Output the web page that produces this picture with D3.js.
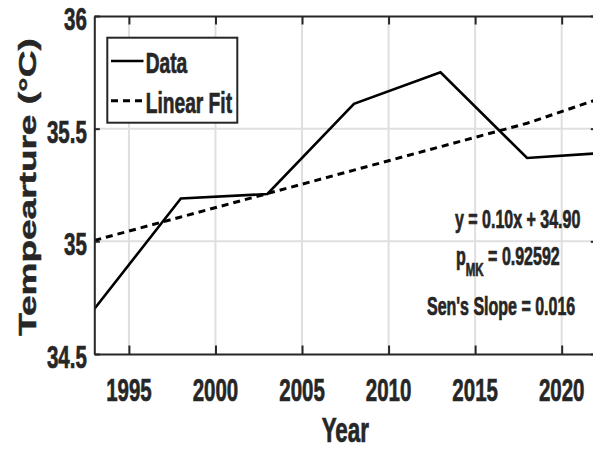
<!DOCTYPE html>
<html>
<head>
<meta charset="utf-8">
<script src="https://cdn.jsdelivr.net/npm/d3@7"></script>
<style>
  body { margin: 0; background: #fff; }
  svg { display: block; overflow: hidden; }
  text { font-family: "Liberation Sans", Arial, Helvetica, sans-serif; font-weight: bold; fill: #262626; stroke: #262626; stroke-width: 0.7px; }
</style>
</head>
<body>
<svg id="chart" width="593" height="450"></svg>
<script>
// Annual mean temperature series
const years = [1993, 1998, 2003, 2008, 2013, 2018, 2022];
const temps = [34.70, 35.19, 35.21, 35.61, 35.75, 35.37, 35.39];

// Axis ticks
const xTicks = [1995, 2000, 2005, 2010, 2015, 2020];
const yTicks = [34.5, 35, 35.5, 36];

// Linear fit on sample index (x = 1..n) and trend statistics
const fitSlope = 0.104;
const fitIntercept = 34.90;
const pMK = "0.92592";
const senSlope = "0.016";

// Horizontal squeeze applied to all text glyphs (condensed look)
const SX = 0.64;

const svg = d3.select("#chart");
const plot = { left: 94.3, right: 596.3, top: 16, bottom: 354 };

const x = d3.scaleLinear().domain([1993, 2022]).range([plot.left, plot.right]);
const y = d3.scaleLinear().domain([34.5, 36]).range([plot.bottom, plot.top]);

// Grid
const grid = svg.append("g").attr("stroke", "#dfdfdf").attr("stroke-width", 2);
grid.selectAll("line.v").data(xTicks).join("line")
  .attr("x1", d => x(d)).attr("x2", d => x(d))
  .attr("y1", plot.top).attr("y2", plot.bottom);
grid.selectAll("line.h").data(yTicks.filter(d => d > 34.5 && d < 36)).join("line")
  .attr("x1", plot.left).attr("x2", plot.right)
  .attr("y1", d => y(d)).attr("y2", d => y(d));

// Clip for series
svg.append("clipPath").attr("id", "plotClip").append("rect")
  .attr("x", plot.left).attr("y", plot.top)
  .attr("width", plot.right - plot.left).attr("height", plot.bottom - plot.top);

const series = svg.append("g").attr("clip-path", "url(#plotClip)");

// Linear fit line
const fitVals = years.map((yr, i) => ({ yr, v: fitIntercept + fitSlope * (i + 1) }));
series.append("path")
  .datum(fitVals)
  .attr("fill", "none").attr("stroke", "#000").attr("stroke-width", 3)
  .attr("stroke-dasharray", "7,5")
  .attr("d", d3.line().x(d => x(d.yr)).y(d => y(d.v)));

// Data line
series.append("path")
  .datum(years.map((yr, i) => ({ yr, v: temps[i] })))
  .attr("fill", "none").attr("stroke", "#000").attr("stroke-width", 2.6)
  .attr("stroke-linejoin", "miter")
  .attr("d", d3.line().x(d => x(d.yr)).y(d => y(d.v)));

// Axes (ticks pointing inward on all four sides)
const axisColor = "#262626";
function styleAxis(g) {
  g.select(".domain").attr("stroke", axisColor).attr("stroke-width", 2);
  g.selectAll(".tick line").attr("stroke", axisColor).attr("stroke-width", 2);
  g.selectAll(".tick text").remove();
}
svg.append("g").attr("transform", `translate(0,${plot.bottom})`)
  .call(d3.axisBottom(x).tickValues(xTicks).tickSizeInner(-8.5).tickSizeOuter(0))
  .call(styleAxis);
svg.append("g").attr("transform", `translate(0,${plot.top})`)
  .call(d3.axisTop(x).tickValues(xTicks).tickSizeInner(-8.5).tickSizeOuter(0))
  .call(styleAxis);
svg.append("g").attr("transform", `translate(${plot.left},0)`)
  .call(d3.axisLeft(y).tickValues(yTicks).tickSizeInner(-5.5).tickSizeOuter(0))
  .call(styleAxis);
svg.append("g").attr("transform", `translate(${plot.right},0)`)
  .call(d3.axisRight(y).tickValues(yTicks).tickSizeInner(-5.5).tickSizeOuter(0))
  .call(styleAxis);

// Helper for squeezed text
function label(px, py, str, size, anchor) {
  return svg.append("g").attr("transform", `translate(${px},${py}) scale(${SX},1)`)
    .append("text").attr("text-anchor", anchor || "start")
    .style("font-size", size + "px").text(str);
}

// Tick labels
xTicks.forEach(t => label(x(t), 400.5, String(t), 32, "middle"));
yTicks.forEach(t => label(86.8, y(t) + 14, String(t), 32, "end"));

// Axis titles
label((plot.left + plot.right) / 2, 442, "Year", 35, "middle");
svg.append("g").attr("transform", `translate(35.5,187) scale(${SX},1) rotate(-90)`)
  .append("text").attr("text-anchor", "middle").style("font-size", "37px")
  .text("Tempearture (°C)");

// Legend
const lg = svg.append("g");
lg.append("rect").attr("x", 107.3).attr("y", 37.7).attr("width", 130).attr("height", 85)
  .attr("fill", "#fff").attr("stroke", axisColor).attr("stroke-width", 2);
lg.append("line").attr("x1", 111).attr("x2", 143.5).attr("y1", 61).attr("y2", 61)
  .attr("stroke", "#000").attr("stroke-width", 2.6);
lg.append("line").attr("x1", 111).attr("x2", 143.5).attr("y1", 100.7).attr("y2", 100.7)
  .attr("stroke", "#000").attr("stroke-width", 3).attr("stroke-dasharray", "7,5");
label(145.7, 72.5, "Data", 30);
label(145.7, 112.5, "Linear Fit", 30);

// Trend annotations
label(455, 228, `y = ${fitSlope.toFixed(2)}x + ${fitIntercept.toFixed(2)}`, 25);
const pText = svg.append("g").attr("transform", `translate(456,265) scale(${SX},1)`)
  .append("text").style("font-size", "25px");
pText.append("tspan").text("p");
pText.append("tspan").attr("dy", 11).style("font-size", "18px").text("MK");
pText.append("tspan").attr("dy", -11).text(` = ${pMK}`);
label(427, 315, `Sen's Slope = ${senSlope}`, 25);
</script>
</body>
</html>
